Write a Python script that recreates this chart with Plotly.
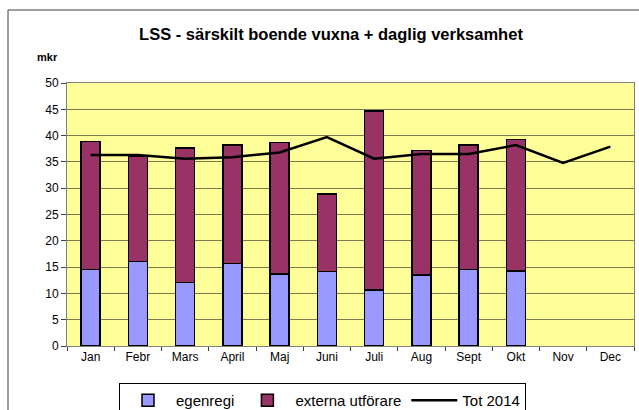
import plotly.graph_objects as go

months = ["Jan", "Febr", "Mars", "April", "Maj", "Juni", "Juli", "Aug", "Sept", "Okt", "Nov", "Dec"]
egenregi = [14.5, 16.1, 12.1, 15.7, 13.7, 14.2, 10.6, 13.5, 14.5, 14.3, None, None]
externa = [24.4, 20.0, 25.5, 22.5, 25.0, 14.7, 34.1, 23.7, 23.7, 25.0, None, None]
tot2014 = [36.3, 36.3, 35.6, 35.9, 36.8, 39.7, 35.6, 36.5, 36.5, 38.2, 34.8, 37.9]
y_ticks = [0, 5, 10, 15, 20, 25, 30, 35, 40, 45, 50]

FONT = "Liberation Sans, Arial, sans-serif"

fig = go.Figure()
fig.add_trace(go.Bar(x=months, y=egenregi, name="egenregi",
                     marker=dict(color="#9999FF", line=dict(color="black", width=1.5))))
fig.add_trace(go.Bar(x=months, y=externa, name="externa utförare",
                     marker=dict(color="#993366", line=dict(color="black", width=1.5))))
fig.add_trace(go.Scatter(x=months, y=tot2014, name="Tot 2014", mode="lines",
                         line=dict(color="black", width=2.5)))

W, H = 639, 410
L, R, T, B = 67, 5, 83, 64
pw, ph = W - L - R, H - T - B

def px(x):
    return (x - L) / pw

def py(y):
    return (H - B - y) / ph

fig.update_layout(
    width=W, height=H,
    margin=dict(l=L, r=R, t=T, b=B, autoexpand=False),
    paper_bgcolor="white",
    plot_bgcolor="#FFFF99",
    barmode="stack",
    bargap=0.6,
    font=dict(family=FONT, size=12, color="black"),
    title=dict(text="<b>LSS - särskilt boende vuxna + daglig verksamhet</b>",
               x=(331 - L) / pw, xref="paper", xanchor="center",
               y=1 - 34 / H, yanchor="middle",
               font=dict(size=16.5, family=FONT, color="black")),
    showlegend=True,
    legend=dict(orientation="h", x=px(119), xanchor="left", y=py(383), yanchor="top",
                bordercolor="black", borderwidth=1, bgcolor="white",
                font=dict(size=15, family=FONT), itemwidth=46,
                traceorder="normal"),
    xaxis=dict(type="category", showgrid=False, showline=True, linecolor="#808080",
               linewidth=1, mirror=True, ticks="outside", tickson="boundaries",
               ticklen=4, tickcolor="#404040", tickfont=dict(size=12)),
    yaxis=dict(range=[0, 50], tickvals=y_ticks, showgrid=True, gridcolor="#7a7a50",
               gridwidth=1, showline=True, linecolor="#808080", linewidth=1, mirror=True,
               ticks="outside", ticklen=5, tickcolor="#404040", tickfont=dict(size=12),
               zeroline=False),
)

fig.add_annotation(text="<b>mkr</b>", xref="paper", yref="paper", x=px(47), y=py(57),
                   xanchor="center", yanchor="middle",
                   showarrow=False, font=dict(size=11, family=FONT))

fig.add_shape(type="rect", xref="paper", yref="paper",
              x0=px(8), x1=px(645), y0=py(420), y1=py(10),
              line=dict(color="#404040", width=1), fillcolor="rgba(0,0,0,0)", layer="below")

fig.write_html("out.html", config={"displayModeBar": False},
               post_script="document.body.style.margin='0';")
